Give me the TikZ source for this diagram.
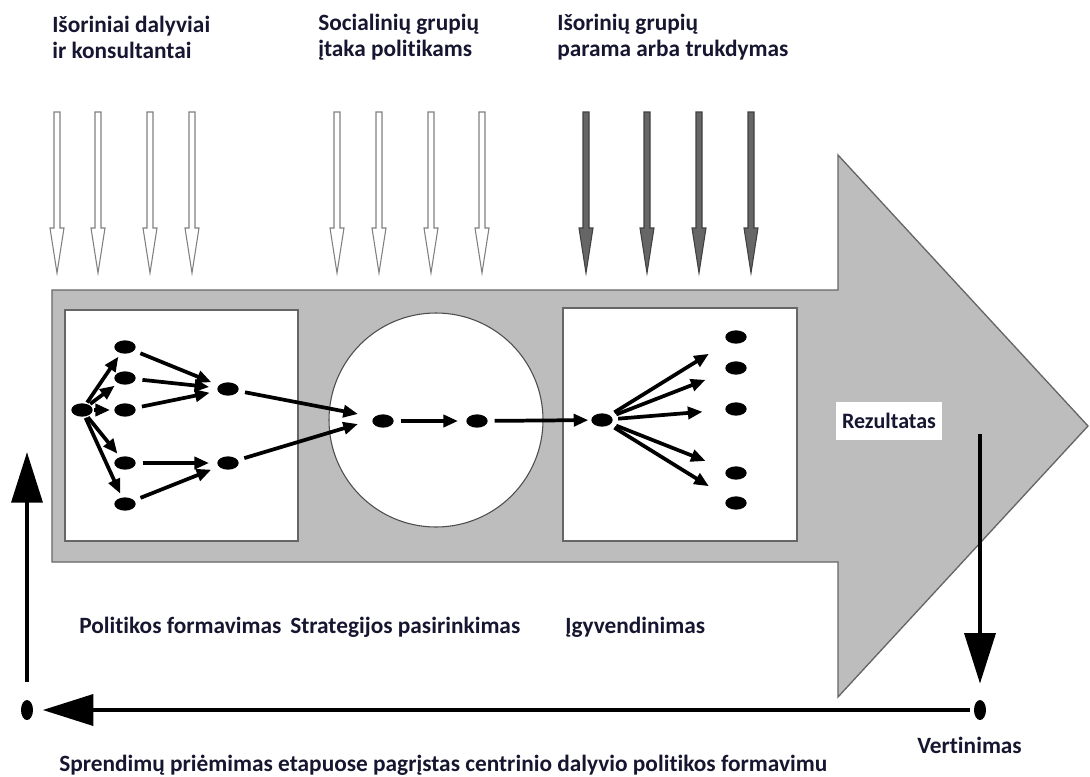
\documentclass[tikz,border=0pt]{standalone}
\usepackage{fontspec}
\setmainfont{Carlito}[Ligatures=CommonOff]
\usetikzlibrary{arrows.meta,shapes.geometric}

\definecolor{ink}{RGB}{22,22,48}
\tikzset{
  dot/.style={ellipse,fill=black,inner sep=0pt,minimum width=16pt,minimum height=10pt},
  enddot/.style={ellipse,fill=black,inner sep=0pt,minimum width=9pt,minimum height=15pt},
  flow/.style={line width=2.8pt,-{Triangle[length=11pt,width=9pt]},shorten <=5pt,shorten >=6pt},
  feedback/.style={line width=3.5pt,-{Triangle[length=38pt,width=23pt]}},
  lbl/.style={text=ink,font=\bfseries\fontsize{17.5}{19.5}\selectfont,align=left,inner sep=0pt}
}

\begin{document}
\begin{tikzpicture}[x=0.75pt,y=-0.75pt]
\useasboundingbox (0,0) rectangle (1090,776);

% influences from above
\foreach \x in {57,98,150,192,337,379,431,482}
  \draw[black!50,line width=0.8pt,fill=white] (\x-3,112) -- (\x+3,112) -- (\x+3,228) -- (\x+7,228) -- (\x,273) -- (\x-7,228) -- (\x-3,228) -- cycle;
\foreach \x in {586,647,699,751}
  \draw[black!75,line width=0.8pt,fill=black!60] (\x-3,112) -- (\x+3,112) -- (\x+3,228) -- (\x+7,228) -- (\x,273) -- (\x-7,228) -- (\x-3,228) -- cycle;

% the big process arrow
\draw[black!60,line width=1pt,fill=black!26] (52,290) -- (838,290) -- (838,155) -- (1088,426) -- (838,697) -- (838,562) -- (52,562) -- cycle;
\draw[black!60,line width=1pt,fill=white] (65,310) rectangle (298,541);
\draw[black!70,line width=0.8pt,fill=white] (436,420) circle (80.25pt);
\draw[black!60,line width=1pt,fill=white] (563,308) rectangle (797,541);

% policy formation
\node[dot] (c0) at (82,410) {};
\node[dot] (a1) at (125,347) {};
\node[dot] (a2) at (125,378) {};
\node[dot] (a3) at (125,410) {};
\node[dot] (a4) at (125,463) {};
\node[dot] (a5) at (125,504) {};
\node[dot] (b1) at (228,389) {};
\node[dot] (b2) at (228,463) {};
\foreach \n in {a1,a2,a3,a4,a5}
  \draw[flow,shorten <=1pt,shorten >=3pt] (c0) -- (\n);
\draw[flow] (a1) -- (b1);
\draw[flow] (a2) -- (b1);
\draw[flow] (a3) -- (b1);
\draw[flow] (a4) -- (b2);
\draw[flow] (a5) -- (b2);

% strategy
\coordinate (k1) at (358,414);
\coordinate (k2) at (358,424);
\node[dot] (s1) at (383,421) {};
\node[dot] (s2) at (477,421) {};
\draw[flow,shorten >=0pt] (b1) -- (k1);
\draw[flow,shorten >=0pt] (b2) -- (k2);
\draw[flow] (s1) -- (s2);

% implementation
\node[dot] (r0) at (602,420) {};
\node[dot] (q1) at (736,337) {};
\node[dot] (q2) at (736,368) {};
\node[dot] (q3) at (736,409) {};
\node[dot] (q4) at (736,473) {};
\node[dot] (q5) at (736,503) {};
\foreach \n in {q1,q2,q3,q4,q5}
  \draw[flow,shorten <=4pt,shorten >=17pt] (r0) -- (\n);
\draw[flow,shorten >=2pt] (s2) -- (r0);

\node[fill=white,text=ink,inner xsep=4.5pt,minimum height=28pt,font=\bfseries\fontsize{16.5}{18}\selectfont] (rez) at (889,421) {Rezultatas};

% evaluation loop
\coordinate (rtop) at (980,434);
\node[enddot] (ev) at (980,710) {};
\node[enddot] (st) at (27,710) {};
\coordinate (ltop) at (27,452);
\draw[feedback,shorten >=12pt] (rtop) -- (ev);
\draw[feedback,shorten <=3pt,shorten >=7pt] (ev) -- (st);
\draw[feedback,shorten <=13pt] (st) -- (ltop);

% texts
\node[lbl,anchor=west] (t1) at (52,37) {Išoriniai dalyviai\\ir konsultantai};
\node[lbl,anchor=west] (t2) at (318,37) {Socialinių grupių\\įtaka politikams};
\node[lbl,anchor=west] (t3) at (557,37) {Išorinių grupių\\parama arba trukdymas};
\node[lbl,anchor=base west] (p1) at (79,633) {Politikos formavimas};
\node[lbl,anchor=base west] (p2) at (290,633) {Strategijos pasirinkimas};
\node[lbl,anchor=base west] (p3) at (565,633) {Įgyvendinimas};
\node[lbl,anchor=base west] (p4) at (917,753) {Vertinimas};
\node[lbl,anchor=base west] (p5) at (59,771) {Sprendimų priėmimas etapuose pagrįstas centrinio dalyvio politikos formavimu};
\end{tikzpicture}
\end{document}
